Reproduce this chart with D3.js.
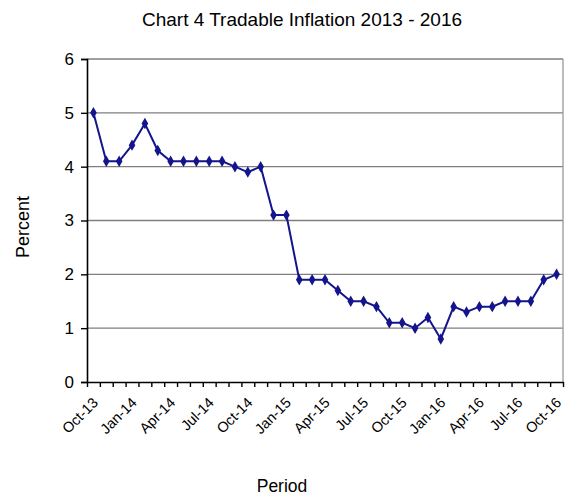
<!DOCTYPE html>
<html>
<head>
<meta charset="utf-8">
<script src="https://cdn.jsdelivr.net/npm/d3@7"></script>
<style>
  body { margin: 0; background: #fff; }
  text { font-family: Arial, "Liberation Sans", sans-serif; fill: #000; }
</style>
</head>
<body>
<svg id="chart" width="567" height="498"></svg>
<script>
// monthly periods Oct-13 .. Oct-16
const months = ["Oct-13","Nov-13","Dec-13","Jan-14","Feb-14","Mar-14","Apr-14","May-14","Jun-14",
  "Jul-14","Aug-14","Sep-14","Oct-14","Nov-14","Dec-14","Jan-15","Feb-15","Mar-15","Apr-15",
  "May-15","Jun-15","Jul-15","Aug-15","Sep-15","Oct-15","Nov-15","Dec-15","Jan-16","Feb-16",
  "Mar-16","Apr-16","May-16","Jun-16","Jul-16","Aug-16","Sep-16","Oct-16"];

const tradable = [5.0,4.1,4.1,4.4,4.8,4.3,4.1,4.1,4.1,4.1,4.1,4.0,3.9,4.0,3.1,3.1,1.9,1.9,1.9,
  1.7,1.5,1.5,1.4,1.1,1.1,1.0,1.2,0.8,1.4,1.3,1.4,1.4,1.5,1.5,1.5,1.9,2.0];

const yTicks = [0,1,2,3,4,5,6];
const labelEvery = 3;

const svg = d3.select("#chart");
const plot = {left: 87, right: 563, top: 59, bottom: 382};

let x = d3.scaleLinear()
  .domain([-0.5, months.length - 0.5])
  .range([plot.left, plot.right]);

let y = d3.scaleLinear()
  .domain([0, 6])
  .range([plot.bottom, plot.top]);

// gridlines
svg.append("g")
  .selectAll("line")
  .data(yTicks.filter(d => d > 0))
  .join("line")
    .attr("x1", plot.left)
    .attr("x2", plot.right)
    .attr("y1", d => y(d))
    .attr("y2", d => y(d))
    .attr("stroke", "#7f7f7f")
    .attr("stroke-width", 1.3);

// right border
svg.append("line")
  .attr("x1", plot.right).attr("x2", plot.right)
  .attr("y1", plot.top).attr("y2", plot.bottom)
  .attr("stroke", "#9a9a9a")
  .attr("stroke-width", 1.3);

// y axis
let yAxis = svg.append("g")
  .attr("transform", `translate(${plot.left},0)`)
  .call(d3.axisLeft(y).tickValues(yTicks).tickSize(6).tickPadding(7).tickFormat(d3.format("d")));
yAxis.select(".domain").attr("stroke", "#000").attr("stroke-width", 1.6);
yAxis.selectAll(".tick line").attr("stroke", "#000").attr("stroke-width", 1.4);
yAxis.selectAll("text").style("font-size", "17px").attr("fill", "#000");

// x axis, ticks between months
let bounds = d3.range(months.length + 1).map(i => i - 0.5);
let xAxis = svg.append("g")
  .attr("transform", `translate(0,${plot.bottom})`)
  .call(d3.axisBottom(x).tickValues(bounds).tickSize(5).tickSizeOuter(0).tickFormat(""));
xAxis.select(".domain").attr("stroke", "#000").attr("stroke-width", 1.6);
xAxis.selectAll(".tick line").attr("stroke", "#000").attr("stroke-width", 1.4);

// rotated month labels
svg.append("g")
  .selectAll("text")
  .data(months.map((m, i) => ({m, i})).filter(d => d.i % labelEvery === 0))
  .join("text")
    .attr("transform", d => `translate(${x(d.i) + 2},${plot.bottom + 18}) rotate(-45)`)
    .attr("text-anchor", "end")
    .attr("dy", "0.35em")
    .style("font-size", "14.5px")
    .text(d => d.m);

// the series
let line = d3.line()
  .x((d, i) => x(i))
  .y(d => y(d));

svg.append("path")
  .datum(tradable)
  .attr("fill", "none")
  .attr("stroke", "#14148c")
  .attr("stroke-width", 2)
  .attr("d", line);

svg.append("g")
  .selectAll("path")
  .data(tradable)
  .join("path")
    .attr("transform", (d, i) => `translate(${x(i)},${y(d)})`)
    .attr("d", d3.symbol(d3.symbolDiamond, 38))
    .attr("fill", "#14148c");

// titles
svg.append("text")
  .attr("x", 302)
  .attr("y", 26)
  .attr("text-anchor", "middle")
  .style("font-size", "19px")
  .text("Chart 4 Tradable Inflation 2013 - 2016");

svg.append("text")
  .attr("transform", "translate(29,227) rotate(-90)")
  .attr("text-anchor", "middle")
  .style("font-size", "18px")
  .text("Percent");

svg.append("text")
  .attr("x", 282)
  .attr("y", 492)
  .attr("text-anchor", "middle")
  .style("font-size", "17.5px")
  .text("Period");
</script>
</body>
</html>
